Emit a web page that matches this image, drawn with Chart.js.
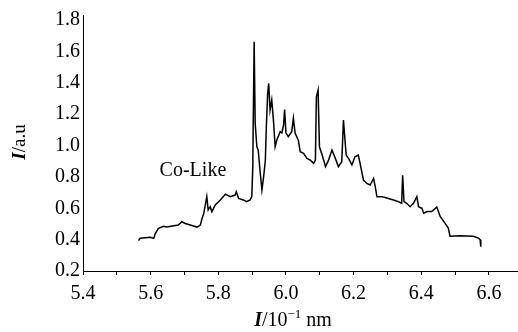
<!DOCTYPE html>
<html>
<head>
<meta charset="utf-8">
<script src="https://cdn.jsdelivr.net/npm/chart.js@4"></script>
<style>
    html, body { margin: 0; padding: 0; background: #fff; }
    canvas { display: block; }
</style>
</head>
<body>
<canvas id="chart" width="518" height="332"></canvas>
<script>
'use strict';

// wavelength (10^-1 nm) and intensity (a.u.)
const wavelength = [
    5.564, 5.569, 5.599, 5.609, 5.614, 5.623, 5.638, 5.648, 5.664, 5.682,
    5.692, 5.702, 5.717, 5.737, 5.747, 5.752, 5.757, 5.766, 5.770, 5.776,
    5.781, 5.791, 5.806, 5.821, 5.835, 5.850, 5.853, 5.860, 5.874, 5.884,
    5.894, 5.899, 5.902, 5.903, 5.906, 5.909, 5.914, 5.918, 5.924, 5.929,
    5.934, 5.939, 5.942, 5.946, 5.949, 5.953, 5.958, 5.963, 5.968, 5.973,
    5.983, 5.988, 5.993, 5.996, 6.000, 6.007, 6.017, 6.022, 6.027, 6.037,
    6.042, 6.052, 6.062, 6.072, 6.082, 6.087, 6.090, 6.095, 6.099, 6.107,
    6.117, 6.126, 6.136, 6.146, 6.155, 6.165, 6.170, 6.178, 6.185, 6.195,
    6.204, 6.214, 6.219, 6.229, 6.239, 6.249, 6.254, 6.259, 6.264, 6.269,
    6.284, 6.298, 6.318, 6.332, 6.342, 6.345, 6.349, 6.357, 6.367, 6.377,
    6.387, 6.392, 6.402, 6.407, 6.417, 6.431, 6.446, 6.456, 6.470, 6.480,
    6.485, 6.515, 6.554, 6.569, 6.574, 6.576,
];
const intensity = [
    0.394, 0.409, 0.415, 0.408, 0.440, 0.472, 0.485, 0.480, 0.487, 0.493,
    0.514, 0.503, 0.493, 0.480, 0.493, 0.535, 0.567, 0.674, 0.589, 0.610,
    0.578, 0.621, 0.653, 0.690, 0.674, 0.684, 0.705, 0.663, 0.653, 0.642,
    0.653, 0.674, 0.865, 1.099, 1.661, 1.143, 0.992, 0.971, 0.825, 0.716,
    0.801, 0.903, 1.120, 1.334, 1.396, 1.226, 1.290, 1.162, 0.992, 1.035,
    1.088, 1.080, 1.133, 1.229, 1.080, 1.056, 1.088, 1.175, 1.080, 1.030,
    0.960, 0.950, 0.918, 0.907, 0.886, 0.907, 1.311, 1.354, 0.992, 0.939,
    0.865, 0.907, 0.971, 0.918, 0.865, 0.897, 1.162, 0.939, 0.918, 0.876,
    0.928, 0.939, 0.888, 0.780, 0.758, 0.748, 0.769, 0.790, 0.737, 0.674,
    0.674, 0.665, 0.653, 0.642, 0.632, 0.810, 0.642, 0.632, 0.610, 0.632,
    0.674, 0.610, 0.600, 0.568, 0.579, 0.579, 0.608, 0.548, 0.505, 0.474,
    0.421, 0.424, 0.421, 0.410, 0.400, 0.355,
];

const xTicks = [5.4, 5.5, 5.6, 5.7, 5.8, 5.9, 6.0, 6.1, 6.2, 6.3, 6.4, 6.5, 6.6];
const xLabels = ['5.4', '5.6', '5.8', '6.0', '6.2', '6.4', '6.6'];
const yTicks = [0.2, 0.4, 0.6, 0.8, 1.0, 1.2, 1.4, 1.6, 1.8];

const serif = '"Liberation Serif", "DejaVu Serif", serif';

// axis titles with mixed styles and the in-plot label
const textPlugin = {
    id: 'texts',
    afterDraw(chart) {
        const ctx = chart.ctx;
        const { x, y } = chart.scales;
        ctx.save();
        ctx.fillStyle = '#000';
        ctx.textBaseline = 'middle';

        // Co-Like
        ctx.font = `20px ${serif}`;
        ctx.textAlign = 'center';
        ctx.fillText('Co-Like', x.getPixelForValue(5.725), y.getPixelForValue(0.837));

        ctx.textAlign = 'left';
        const runs = (parts, sx, sy) => {
            let px = sx;
            parts.forEach(p => {
                ctx.font = p.font;
                ctx.fillText(p.text, px, sy + (p.dy || 0));
                px += ctx.measureText(p.text).width;
            });
        };
        const measure = parts => parts.reduce((w, p) => {
            ctx.font = p.font;
            return w + ctx.measureText(p.text).width;
        }, 0);

        // y title
        const yParts = [
            { text: 'I', font: `italic bold 19px ${serif}` },
            { text: '/a.u', font: `19px ${serif}` },
        ];
        ctx.save();
        ctx.translate(20, 142);
        ctx.rotate(-Math.PI / 2);
        runs(yParts, -measure(yParts) / 2, 0);
        ctx.restore();

        // x title
        const xParts = [
            { text: 'I', font: `italic bold 20px ${serif}` },
            { text: '/10', font: `20px ${serif}` },
            { text: '\u22121', font: `13px ${serif}`, dy: -6 },
            { text: ' nm', font: `20px ${serif}` },
        ];
        runs(xParts, 293 - measure(xParts) / 2, 321);

        ctx.restore();
    },
};

new Chart(document.getElementById('chart'), {
    type: 'line',
    data: {
        datasets: [{
            data: wavelength.map((w, i) => ({ x: w, y: intensity[i] })),
            borderColor: '#000',
            borderWidth: 1.5,
            pointRadius: 0,
            tension: 0,
        }],
    },
    options: {
        responsive: false,
        animation: false,
        devicePixelRatio: 1,
        layout: { padding: { top: 15, right: 0, bottom: 0, left: 0 } },
        plugins: { legend: { display: false }, tooltip: { enabled: false } },
        scales: {
            x: {
                type: 'linear',
                min: 5.4,
                max: 6.686,
                afterBuildTicks: scale => { scale.ticks = xTicks.map(v => ({ value: v })); },
                afterFit: scale => { scale.height = 61; },
                border: { color: '#000', width: 1 },
                grid: { drawOnChartArea: false, color: '#000', tickLength: 4 },
                ticks: {
                    autoSkip: false,
                    maxRotation: 0,
                    padding: 7,
                    color: '#000',
                    font: { family: serif, size: 20 },
                    callback: v => {
                        const s = v.toFixed(1);
                        return xLabels.includes(s) ? s : '';
                    },
                },
            },
            y: {
                min: 0.2,
                max: 1.832,
                afterBuildTicks: scale => { scale.ticks = yTicks.map(v => ({ value: v })); },
                afterFit: scale => { scale.width = 83; },
                border: { color: '#000', width: 1 },
                grid: { drawOnChartArea: false, drawTicks: false },
                ticks: {
                    padding: 3,
                    color: '#000',
                    font: { family: serif, size: 20 },
                    callback: v => v.toFixed(1),
                },
            },
        },
    },
    plugins: [textPlugin],
});
</script>
</body>
</html>
